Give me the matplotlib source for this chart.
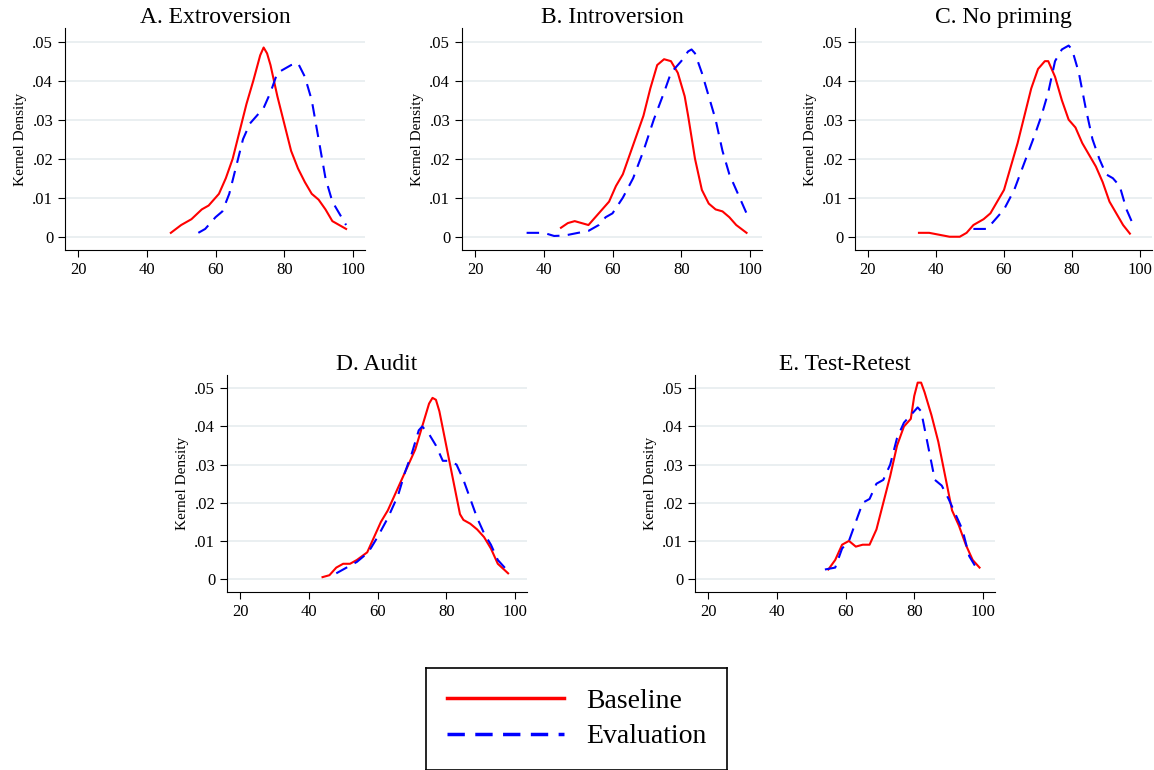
import matplotlib
matplotlib.use("Agg")
import matplotlib.pyplot as plt
from matplotlib.lines import Line2D

plt.rcParams['font.family'] = ['Liberation Serif', 'DejaVu Serif']

titles = ["A. Extroversion", "B. Introversion", "C. No priming", "D. Audit", "E. Test-Retest"]

a_base_x = [47,50,53,56,58,61,63,65,67,69,71,73,74,75,76,78,80,82,84,86,88,90,92,94,96,98]
a_base_y = [.001,.003,.0045,.007,.008,.011,.015,.02,.027,.034,.04,.0465,.0485,.047,.044,.036,.029,.022,.0175,.014,.011,.0095,.007,.004,.003,.002]
a_eval_x = [55,57,60,62,64,66,68,70,72,74,76,78,80,82,84,86,88,90,92,94,96,98]
a_eval_y = [.001,.002,.005,.0065,.011,.018,.025,.029,.031,.033,.037,.042,.043,.044,.0445,.041,.035,.025,.015,.009,.006,.003]

b_base_x = [45,47,49,51,53,55,57,59,61,63,65,67,69,71,73,75,77,79,81,82,84,86,88,90,92,94,96,99]
b_base_y = [.0023,.0035,.004,.0035,.003,.005,.007,.009,.013,.016,.021,.026,.031,.038,.044,.0455,.045,.042,.036,.031,.02,.012,.0085,.007,.0065,.005,.003,.001]
b_eval_x = [35,40,43,46,50,53,56,58,60,63,66,69,72,75,77,80,82,83,84,86,88,90,92,94,96,98,99]
b_eval_y = [.001,.001,.0002,.0003,.001,.0015,.003,.005,.006,.01,.015,.022,.03,.037,.042,.045,.0475,.048,.047,.042,.036,.03,.022,.016,.012,.008,.006]

c_base_x = [35,38,41,44,47,49,51,54,56,58,60,62,64,66,68,70,72,73,75,77,79,81,83,85,87,89,91,93,95,97]
c_base_y = [.001,.001,.0005,0,0,.001,.003,.0045,.006,.009,.012,.018,.024,.031,.038,.043,.045,.045,.041,.035,.03,.028,.024,.021,.018,.014,.009,.006,.003,.0008]
c_eval_x = [51,55,57,60,63,66,69,71,73,75,77,79,80,82,84,86,88,90,92,94,96,98]
c_eval_y = [.002,.002,.004,.007,.012,.019,.026,.031,.037,.045,.048,.049,.048,.042,.033,.025,.02,.016,.015,.013,.007,.003]

d_base_x = [44,46,48,50,52,54,57,59,61,63,65,67,69,71,73,75,76,77,78,80,82,84,85,87,89,91,93,95,98]
d_base_y = [.0005,.001,.003,.004,.004,.005,.007,.011,.015,.018,.022,.026,.03,.034,.04,.046,.0475,.047,.044,.035,.026,.017,.0155,.0145,.013,.011,.008,.004,.0015]
d_eval_x = [48,51,54,56,58,60,63,66,68,70,72,73,75,77,79,81,83,85,87,89,91,93,95,98]
d_eval_y = [.0015,.003,.0045,.006,.008,.011,.016,.022,.028,.033,.039,.04,.038,.035,.031,.031,.03,.026,.021,.016,.012,.009,.005,.002]

e_base_x = [55,57,59,61,63,65,67,69,71,73,75,77,79,80,81,82,83,85,87,89,91,93,95,97,99]
e_base_y = [.0025,.005,.009,.01,.0085,.009,.009,.013,.02,.027,.035,.04,.042,.048,.0515,.0515,.049,.043,.036,.027,.018,.014,.009,.005,.003]
e_eval_x = [54,57,59,61,63,65,67,69,71,73,75,77,79,81,82,84,86,88,90,92,94,96,98]
e_eval_y = [.0025,.003,.008,.01,.015,.02,.021,.025,.026,.03,.037,.041,.043,.045,.044,.035,.026,.0245,.021,.017,.013,.006,.003]

data = [(a_base_x,a_base_y,a_eval_x,a_eval_y),(b_base_x,b_base_y,b_eval_x,b_eval_y),
        (c_base_x,c_base_y,c_eval_x,c_eval_y),(d_base_x,d_base_y,d_eval_x,d_eval_y),
        (e_base_x,e_base_y,e_eval_x,e_eval_y)]

xticks = [20,40,60,80,100]
yticks = [0,.01,.02,.03,.04,.05]
ylabels = ["0",".01",".02",".03",".04",".05"]

W, H = 1154, 770
fig = plt.figure(figsize=(W/100, H/100), dpi=100)
rects = [(65,28,365,250),(462,28,762,250),(855,28,1152,250),(227,375,527,592),(695,375,995,592)]
for (l,t,r,b), title, (bx,by,ex,ey) in zip(rects, titles, data):
    ax = fig.add_axes([l/W, 1-b/H, (r-l)/W, (b-t)/H])
    ax.plot(bx, by, color='#ff0000', lw=1.5)
    ax.plot(ex, ey, color='#0000ff', lw=1.5, ls=(0,(6,4)))
    ax.set_xlim(16.2, 103.5)
    ax.set_ylim(-0.0034, 0.0535)
    ax.set_xticks(xticks)
    ax.set_yticks(yticks)
    ax.set_yticklabels(ylabels)
    ax.grid(axis='y', color='#e6ecef', lw=1.2)
    ax.set_axisbelow(True)
    ax.spines['top'].set_visible(False)
    ax.spines['right'].set_visible(False)
    ax.tick_params(labelsize=12, length=5)
    ax.set_ylabel("Kernel Density", fontsize=11)
    ax.set_title(title, fontsize=17, pad=2)

lax = fig.add_axes([426/W, 1-770/H, 301/W, 102/H])
lax.set_xticks([]); lax.set_yticks([])
for s in lax.spines.values():
    s.set_linewidth(1.2)
h = [Line2D([],[],color='#ff0000',lw=2.5), Line2D([],[],color='#0000ff',lw=2.5,ls=(0,(5,3)))]
lax.legend(h, ["Baseline","Evaluation"], loc='center', frameon=False, fontsize=20,
           handlelength=4.2, handletextpad=0.8, labelspacing=0.35)
fig.savefig("out.png", dpi=100)
